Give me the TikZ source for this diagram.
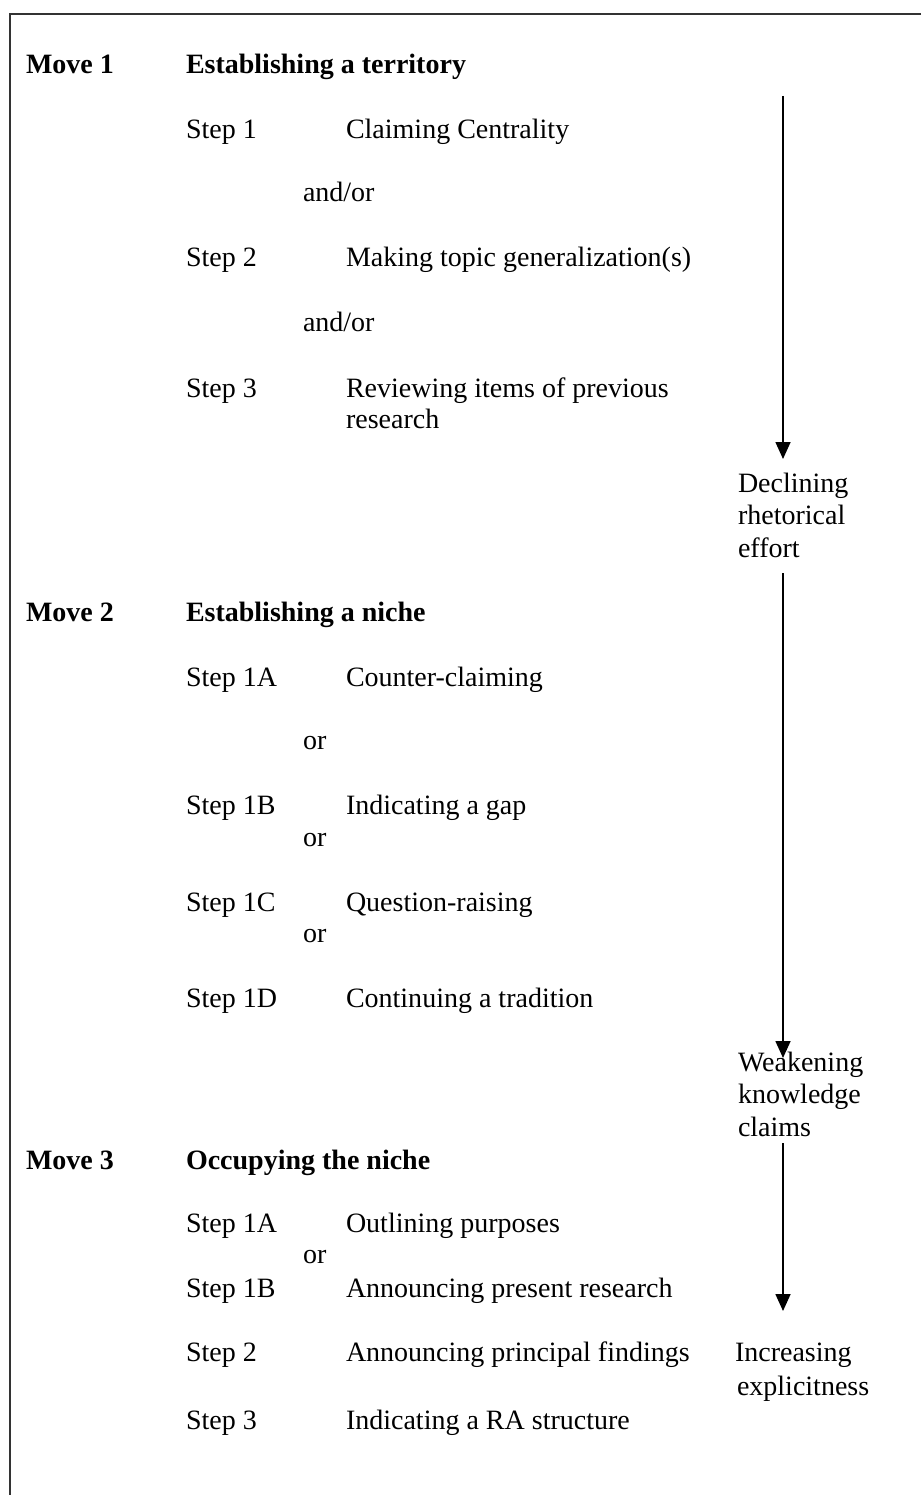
\documentclass[tikz,border=0pt]{standalone}
\usepackage{fontspec}
\setmainfont{Liberation Serif}
\usetikzlibrary{arrows.meta}
\begin{document}
\begin{tikzpicture}[x=1pt,y=-1pt,
  txt/.style={anchor=base west,inner sep=0pt,outer sep=0pt,font=\fontsize{28}{31}\selectfont,align=left,text=black},
  mv/.style={txt,font=\fontsize{28}{31}\selectfont\bfseries},
  side/.style={txt,font=\fontsize{28}{32.5}\selectfont},
  frame/.style={draw=black!80,line width=1.5pt},
  flow/.style={draw=black,line width=1.6pt,-{Triangle[length=17pt,width=15pt]}}]
\useasboundingbox (0,0) rectangle (921,1495);
\coordinate (fTL) at (10,14);
\coordinate (fTR) at (921,14);
\coordinate (fBL) at (10,1495);
\draw[frame] (fTR) -- (fTL) -- (fBL);
% Move 1
\node[mv] (m1) at (26,74) {Move 1};
\node[mv] (m1t) at (186,74) {Establishing a territory};
\node[txt] (m1s1) at (186,139) {Step 1};
\node[txt] (m1d1) at (346,139) {Claiming Centrality};
\node[txt] (m1o1) at (303,202) {and/or};
\node[txt] (m1s2) at (186,267) {Step 2};
\node[txt] (m1d2) at (346,267) {Making topic generalization(s)};
\node[txt] (m1o2) at (303,331) {and/or};
\node[txt] (m1s3) at (186,397) {Step 3};
\node[txt] (m1d3) at (346,428) {Reviewing items of previous\\research};
% Move 2
\node[mv] (m2) at (26,621) {Move 2};
\node[mv] (m2t) at (186,621) {Establishing a niche};
\node[txt] (m2s1) at (186,686) {Step 1A};
\node[txt] (m2d1) at (346,686) {Counter-claiming};
\node[txt] (m2o1) at (303,749) {or};
\node[txt] (m2s2) at (186,814) {Step 1B};
\node[txt] (m2d2) at (346,814) {Indicating a gap};
\node[txt] (m2o2) at (303,846) {or};
\node[txt] (m2s3) at (186,911) {Step 1C};
\node[txt] (m2d3) at (346,911) {Question-raising};
\node[txt] (m2o3) at (303,942) {or};
\node[txt] (m2s4) at (186,1007) {Step 1D};
\node[txt] (m2d4) at (346,1007) {Continuing a tradition};
% Move 3
\node[mv] (m3) at (26,1169) {Move 3};
\node[mv] (m3t) at (186,1169) {Occupying the niche};
\node[txt] (m3s1) at (186,1232) {Step 1A};
\node[txt] (m3d1) at (346,1232) {Outlining purposes};
\node[txt] (m3o1) at (303,1263) {or};
\node[txt] (m3s2) at (186,1297) {Step 1B};
\node[txt] (m3d2) at (346,1297) {Announcing present research};
\node[txt] (m3s3) at (186,1361) {Step 2};
\node[txt] (m3d3) at (346,1361) {Announcing principal findings};
\node[txt] (m3s4) at (186,1429) {Step 3};
\node[txt] (m3d4) at (346,1429) {Indicating a RA structure};
% side labels
\node[side] (l1) at (738,557) {Declining\\rhetorical\\effort};
\node[side] (l2) at (738,1136) {Weakening\\knowledge\\claims};
\node[side] (l3) at (735,1395) {Increasing\\[1.5pt]\hspace*{2pt}explicitness};
% arrows
\coordinate (a1s) at (783,96);
\coordinate (a1e) at (783,459);
\coordinate (a2s) at (783,573);
\coordinate (a2e) at (783,1058);
\coordinate (a3s) at (783,1143);
\coordinate (a3e) at (783,1311);
\draw[flow] (a1s) -- (a1e);
\draw[flow] (a2s) -- (a2e);
\draw[flow] (a3s) -- (a3e);
\end{tikzpicture}
\end{document}
